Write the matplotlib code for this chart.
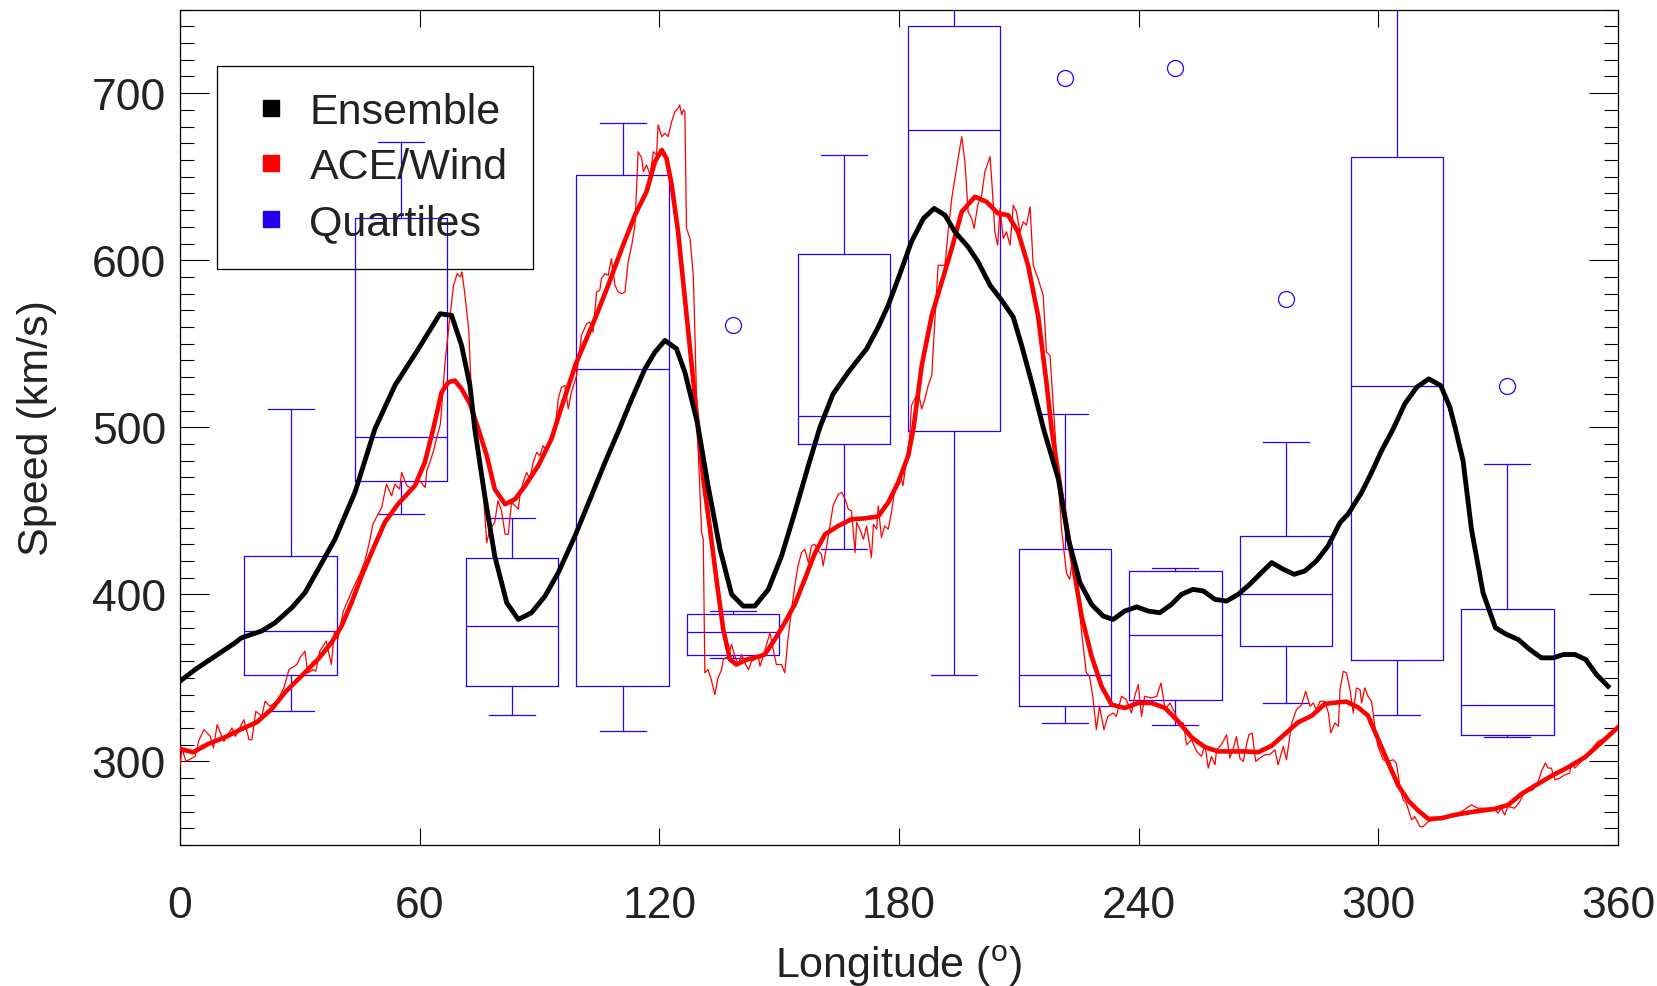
import matplotlib
matplotlib.use("Agg")
import matplotlib.pyplot as plt
from matplotlib.lines import Line2D
from matplotlib.ticker import MultipleLocator

plt.rcParams['font.family'] = ['Liberation Sans', 'DejaVu Sans']
plt.rcParams['mathtext.fontset'] = 'custom'
plt.rcParams['mathtext.rm'] = 'Liberation Sans'

# ensemble model speed
ens_lon = [0, 3.8, 8.8, 13.8, 15.4, 20.4, 23.8, 28, 31.3, 34.6, 38.8, 43.8, 48.8, 53.8,
           59.7, 65.1, 68, 70.5, 72.6, 73.8, 76.3, 78.8, 81.8, 84.7, 88, 91.4, 94.7,
           98.9, 103, 106.4, 110, 113.1, 116.4, 118.9, 121.4, 124.3, 126.4, 129.5,
           132.2, 135.2, 138.1, 141, 143.9, 147.3, 150.6, 153.9, 157.3, 160.2, 163.5,
           167.3, 171.9, 174.8, 177.3, 179.8, 183.1, 186.1, 188.8, 191.5, 194, 197.3,
           199.8, 202.8, 205.7, 208.6, 210.7, 213.2, 216.3, 219.9, 222.4, 225.3, 228.2,
           231.1, 233.6, 236.5, 239.5, 242.4, 245.3, 248.2, 250.7, 253.6, 256.2, 259.1,
           262, 264.9, 267.8, 270.3, 273.3, 276.2, 278.9, 281.6, 284.5, 287.4, 290.4,
           292.4, 295.8, 298.3, 300.8, 303.7, 306.6, 309.6, 312.6, 315.6, 317.9, 319.3,
           321.2, 323.3, 326.2, 329.3, 332.1, 335, 337.9, 340.8, 343.8, 346.3, 349.2,
           351.9, 354.6, 357.5]
ens_speed = [348, 355, 363, 371, 374, 378, 383, 392, 401, 415, 433, 461, 499, 525,
             547, 568, 567, 549, 525, 499, 459, 423, 395, 385, 389, 399, 413,
             435, 459, 479, 499, 517, 535, 545, 552, 547, 533, 503,
             465, 427, 400, 393, 393, 403, 423, 449, 477, 500, 520,
             533, 547, 560, 573, 589, 611, 625, 631, 627, 617, 608,
             599, 585, 576, 566, 549, 527, 498, 469, 433, 407, 394,
             387, 385, 390, 392.5, 390, 389, 394, 400, 403, 402, 397,
             396, 400, 406, 412, 419, 415, 412, 414, 420, 429, 443,
             448, 461, 473, 486, 499, 514, 524, 529, 525, 512, 499,
             480, 439, 401, 380, 376, 373, 367, 362, 362, 364, 364,
             361, 352, 345]

# ACE/Wind smoothed
obs_lon = [0, 3.3, 7.1, 11.3, 15.4, 19.2, 23, 26.3, 30.5, 34.6, 38, 40.5, 43, 45.5, 48,
           51.3, 54.6, 58.8, 61.3, 63.4, 65.5, 67.2, 68.8, 70.5, 72.6, 74.7, 76.8, 78.8,
           81.4, 83.9, 86.4, 89.7, 93, 95.5, 99.1, 103.9, 107.2, 110.6, 113.9, 116.8,
           118.9, 120.6, 121.8, 123.1, 124.7, 126.4, 128.1, 129.7, 131, 132.7, 134.3,
           136, 137.7, 139.3, 141.9, 145.2, 146.4, 148.9, 151.4, 153.9, 156.4, 159,
           161.5, 164.8, 168.1, 171.5, 174.8, 177.3, 179.8, 182.3, 183.6, 185.7, 188.2,
           190.7, 193.2, 195.7, 199, 201.9, 204.8, 207.3, 209.8, 212.3, 214.8, 216.9,
           218.2, 220.7, 223.2, 225.7, 228.2, 230.7, 233.2, 236.5, 239.9, 243.2, 246.6,
           249.9, 253.2, 256.6, 259.9, 263.2, 266.6, 269.9, 273.3, 276.6, 279.9, 283.3,
           286.6, 289.9, 292, 294.9, 297.4, 299.9, 302.4, 305, 307.5, 310, 312.5, 315.8,
           319.1, 324.1, 329.2, 332.5, 335.8, 339.2, 343.4, 347.5, 351.7, 355.9, 360]
obs_speed = [307.5, 305.5, 310.5, 314.5, 319.4, 323.4, 331.4, 341.4, 351.3, 361.3, 371.3,
             381.3, 395.3, 411.2, 425.2, 443.2, 454.1, 465, 479, 499, 521, 527, 528, 523,
             514, 499, 483, 463, 454, 457, 465, 477, 493, 512, 538, 565, 585, 607, 627,
             641, 659, 666, 661, 645, 617, 577, 537, 499, 469, 439, 409, 379, 361, 358,
             361, 363, 364, 373, 383, 394, 409, 425, 436, 441, 445, 445.5, 446.7, 455,
             467, 483, 499, 537, 567, 587, 607, 629, 638, 635, 628, 627, 617, 597, 567,
             527, 499, 459, 423, 387, 363, 345, 334, 332, 335, 335, 332, 324, 314.5,
             308.5, 306, 306, 306, 305.5, 309.4, 316.4, 323.4, 327.3, 334.4, 335.4, 335.8,
             332.4, 327.4, 313.5, 299.5, 285.5, 276.5, 270.5, 265.6, 266, 268, 270, 271.6,
             274, 280.5, 285.5, 291.4, 296.5, 302.5, 311.5, 320.5]

# ACE/Wind raw
raw_lon = [0, 0.5, 1.5, 3.8, 4.8, 6, 7.6, 8.4, 9.3, 11, 13, 13.9, 16, 17.3, 18, 19, 20.5,
           21.3, 22.5, 24.3, 26, 27.3, 29.3, 30, 31.3, 32, 33.4, 34, 35, 36.6, 37.9, 38.7,
           39.5, 40.9, 43.4, 45, 46.3, 47.5, 48.3, 49.6, 50.5, 51.7, 53, 53.8, 55, 55.5,
           56.8, 58.4, 60, 61.4, 61.8, 62.7, 63.5, 64.3, 65.2, 66.4, 67.3, 68.5, 69.4,
           70.2, 70.6, 71.3, 72.3, 73, 74.3, 75.5, 76.8, 77.6, 78.8, 79.6, 80.5, 81.4,
           82.2, 83, 83.9, 84.7, 85.1, 85.9, 86.8, 87.6, 88.4, 89.3, 90.1, 90.9, 91.8,
           92.6, 93.9, 94.7, 95.5, 96.4, 97.2, 98, 99.3, 100.5, 101.8, 102.6, 103.4,
           104.3, 105.1, 105.5, 106.4, 107.2, 108, 108.9, 109.7, 110.6, 111.4, 112.2,
           113.1, 113.9, 114.7, 115.6, 116, 116.8, 117.7, 118.5, 119.3, 119.7, 120.6,
           121.4, 122.2, 123.1, 123.9, 124.7, 125.1, 125.6, 126, 126.4, 126.8, 127.7,
           128.5, 128.9, 129.5, 130.2, 130.6, 131, 131.4, 132.2, 133, 133.9, 134.7,
           135.6, 136, 137.2, 138.1, 138.9, 139.8, 140.6, 141.4, 142.3, 143.1, 143.9,
           144.8, 145.2, 146, 147.7, 148.5, 149.3, 150.6, 151.4, 152.2, 153.1, 153.9,
           154.7, 155.6, 156.4, 157.3, 158.1, 158.9, 159.8, 160.6, 161, 161.9, 162.7,
           163.5, 164.8, 165.7, 166.5, 167.3, 168.1, 169, 169.4, 170.2, 171.1, 171.9,
           173.1, 173.6, 174.4, 174.8, 175.6, 176.4, 177.3, 178.1, 178.9, 179.8, 180.6,
           181, 181.9, 182.7, 183.1, 184.8, 185.7, 186.5, 187.3, 188.2, 189, 189.8,
           191.5, 192.3, 193.2, 194, 194.8, 195.7, 196.5, 197.3, 198.2, 198.8, 199.7,
           200.7, 201.5, 202.8, 203.4, 204, 204.7, 205.3, 206.1, 206.9, 207.8, 208.6,
           209.4, 210.3, 211.1, 211.9, 212.8, 213.6, 214.8, 216.1, 216.9, 217.8, 219,
           220.7, 221.9, 222.7, 223.6, 224.8, 225.9, 226.9, 227.7, 228.5, 229.4, 230.2,
           231.3, 232.3, 233.6, 234.4, 235.7, 236.9, 238.2, 239, 239.9, 240.7, 241.5,
           243.2, 244.5, 245.6, 246.6, 247.8, 249.1, 249.9, 251.2, 252, 253.2, 254.5,
           255.7, 256.6, 257.4, 258.2, 259.1, 259.5, 260.7, 262, 262.8, 263.6, 264.5,
           265.3, 266.2, 267, 267.6, 268.4, 269.3, 270.3, 271.6, 272.8, 274.1, 274.9,
           276.2, 277, 278.3, 279.5, 280.8, 281.8, 282.9, 283.7, 284.5, 285.4, 286.6,
           287.5, 288.1, 289.1, 290, 290.4, 291.2, 292, 292.9, 293.7, 294.5, 295.4,
           295.8, 296.6, 297.4, 298.3, 299.1, 299.9, 301.2, 302.4, 303.7, 304.5, 305.4,
           306.2, 307, 308.3, 309.1, 310.4, 311.2, 312.5, 314.1, 315.8, 317.9, 320.8,
           323.3, 324.9, 327.4, 329.1, 329.9, 330.8, 331.6, 332.4, 334.1, 335.4, 336.2,
           337.4, 338.7, 339.9, 340.8, 341.8, 342.5, 343.3, 344.2, 345.4, 346.7, 347.9,
           348.3, 349.2, 350.4, 351.2, 352.9, 355, 356.7, 358.3, 360]
raw_speed = [297, 308, 300, 303, 313, 319, 315, 308, 322, 312, 320, 315, 325, 313, 313, 330,
             327, 336, 333, 336, 344, 355, 358, 362, 366, 353, 355, 354, 366, 372, 358, 378,
             373, 390, 404, 412, 420, 432, 442, 448, 452, 466, 459, 466, 463, 473,
             465, 463, 468, 464, 474, 480, 486, 494, 502, 540, 560, 585, 592,
             590, 593, 580, 558, 517, 490, 475, 431, 439, 443, 456, 450, 436,
             436, 455, 453, 451, 459, 467, 473, 469, 479, 485, 483, 489, 486,
             493, 499, 517, 524, 525, 511, 521, 531, 555, 562, 563, 557,
             581, 582, 589, 592, 591, 601, 585, 581, 580, 581, 599,
             609, 621, 665, 661, 653, 657, 651, 665, 663, 681, 674,
             676, 674, 683, 689, 691, 693, 687, 690, 689, 619, 613,
             591, 557, 499, 459, 437, 433, 353, 355, 349, 340, 350,
             355, 361, 363, 370, 363, 358, 364, 359, 355, 360, 361,
             363, 357, 363, 377, 367, 358, 358, 353, 373, 391, 405,
             417, 425, 427, 419, 429, 430, 426, 424, 417, 429, 441,
             453, 460, 461, 457, 451, 450, 425, 443, 439, 433, 441,
             422, 442, 439, 453, 434, 441, 439, 449, 462, 467, 469,
             465, 481, 495, 513, 521, 511, 517, 525, 531, 565, 597,
             597, 617, 637, 649, 661, 674, 659, 629, 625, 619, 633,
             639, 653, 662, 641, 617, 609, 631, 613, 617, 609, 633,
             629, 617, 623, 621, 632, 597, 589, 579, 545, 543, 499,
             439, 413, 409, 423, 399, 373, 353, 351, 339, 319, 333,
             319, 327, 329, 327, 339, 337, 329, 339, 346, 327, 339,
             338, 339, 347, 331, 335, 329, 323, 323, 310, 313, 306,
             303, 310, 296, 303, 298, 307, 310, 316, 302, 307, 315,
             302, 300, 310, 316, 317, 300, 302, 304, 304, 307, 298,
             309, 301, 323, 331, 334, 342, 333, 335, 331, 336, 336,
             329, 317, 323, 321, 343, 354, 353, 343, 329, 344, 343,
             335, 344, 339, 336, 321, 309, 301, 300, 301, 299, 285,
             277, 275, 265, 267, 261, 261, 264, 265, 267, 267, 270,
             274, 272, 272, 272, 269, 272, 268, 273, 272, 276, 280,
             282, 283, 287, 294, 299, 296, 296, 289, 290, 292, 293,
             299, 296, 299, 302, 306, 312, 314, 317, 320]

# quartile boxes
box_lon = [27.7, 55.4, 83.1, 110.8, 138.5, 166.2, 193.8, 221.5, 249.2, 276.9, 304.6, 332.3]
box_lo = [330, 448, 328, 318, 362, 427, 352, 323, 322, 335, 328, 314.5]
box_q1 = [352, 468, 345, 345, 363.5, 490, 498, 333, 337, 369, 361, 316]
box_med = [378, 494, 381, 535, 377.5, 507, 678, 352, 375.5, 400, 525, 334]
box_q3 = [423, 625, 422, 651, 388, 604, 740, 427, 414, 435, 662, 391]
box_hi = [511, 671, 446, 682, 390, 663, 790, 508, 415.5, 491, 751, 478]
box_out = [[], [], [], [], [561], [], [], [709], [715], [577], [], [525]]

blue = '#2a00ff'
txt = '#222222'

fig = plt.figure(figsize=(16.57, 9.87), dpi=100)
ax = fig.add_axes([0.1086, 0.1429, 0.8679, 0.8463])

stats = []
for i in range(len(box_lon)):
    stats.append(dict(med=box_med[i], q1=box_q1[i], q3=box_q3[i],
                      whislo=box_lo[i], whishi=box_hi[i], fliers=box_out[i]))
lp = dict(color=blue, linewidth=0.9)
ax.bxp(stats, positions=box_lon, widths=23.1, capwidths=11.5, manage_ticks=False,
       boxprops=lp, whiskerprops=lp, capprops=lp, medianprops=lp,
       flierprops=dict(marker='o', markerfacecolor='none', markeredgecolor=blue,
                       markersize=11.5, markeredgewidth=0.9))

ax.plot(raw_lon, raw_speed, color='red', lw=0.9, zorder=3)
ax.plot(obs_lon, obs_speed, color='red', lw=3.3, zorder=4)
ax.plot(ens_lon, ens_speed, color='black', lw=3.5, zorder=5)

ax.set_xlim(0, 360)
ax.set_ylim(250, 750)
ax.xaxis.set_major_locator(MultipleLocator(60))
ax.yaxis.set_major_locator(MultipleLocator(100))
ax.yaxis.set_minor_locator(MultipleLocator(10))
ax.tick_params(axis='both', which='both', direction='in', top=True, right=True,
               labelsize=32, labelcolor=txt, width=0.8)
ax.tick_params(axis='x', which='major', length=12, pad=29)
ax.tick_params(axis='y', which='major', length=21, pad=10)
ax.tick_params(axis='y', which='minor', length=10)
ax.set_yticks([300, 400, 500, 600, 700])
for s in ax.spines.values():
    s.set_linewidth(0.9)

ax.set_xlabel(r'Longitude ($^\mathrm{o}$)', fontsize=31, color=txt, labelpad=12)
ax.set_ylabel('Speed (km/s)', fontsize=31, color=txt, labelpad=25)

handles = [Line2D([], [], ls='none', marker='s', markersize=11.5, color=c)
           for c in ['black', 'red', '#2200ee']]
leg = ax.legend(handles, ['Ensemble', 'ACE/Wind', 'Quartiles'], loc='upper left',
                bbox_to_anchor=(0.0257, 0.9326), borderaxespad=0, fontsize=31,
                frameon=True, fancybox=False, framealpha=1, borderpad=0.6,
                handlelength=1.3, handletextpad=0.25, labelspacing=0.36)
leg.get_frame().set_facecolor('none')
leg.get_frame().set_edgecolor('black')
leg.get_frame().set_linewidth(0.9)
for t in leg.get_texts():
    t.set_color(txt)

fig.savefig('out.png', dpi=100)
